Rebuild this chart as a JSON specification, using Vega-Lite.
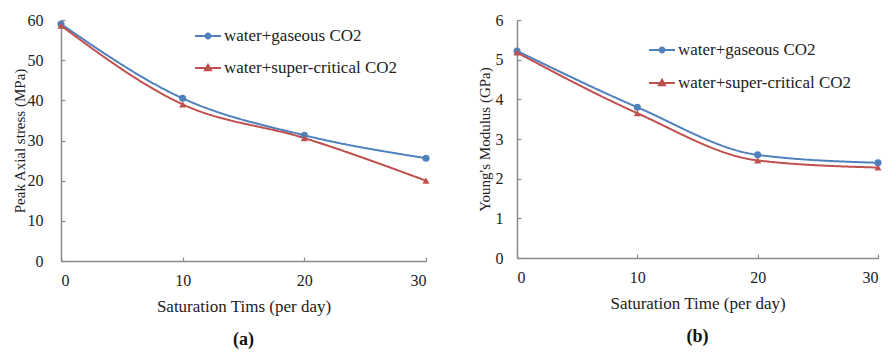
{
  "$schema": "https://vega.github.io/schema/vega-lite/v6.json",
  "padding": {"left": 12, "top": 12, "right": 0, "bottom": 0},
  "background": "white",
  "data": {"values": [
    {"panel": "a", "series": "water+gaseous CO2", "t": 0, "v": 59.0},
    {"panel": "a", "series": "water+gaseous CO2", "t": 10, "v": 40.5},
    {"panel": "a", "series": "water+gaseous CO2", "t": 20, "v": 31.3},
    {"panel": "a", "series": "water+gaseous CO2", "t": 30, "v": 25.6},
    {"panel": "a", "series": "water+super-critical CO2", "t": 0, "v": 58.6},
    {"panel": "a", "series": "water+super-critical CO2", "t": 10, "v": 39.0},
    {"panel": "a", "series": "water+super-critical CO2", "t": 20, "v": 30.6},
    {"panel": "a", "series": "water+super-critical CO2", "t": 30, "v": 20.0},
    {"panel": "b", "series": "water+gaseous CO2", "t": 0, "v": 5.22},
    {"panel": "b", "series": "water+gaseous CO2", "t": 10, "v": 3.8},
    {"panel": "b", "series": "water+gaseous CO2", "t": 20, "v": 2.6},
    {"panel": "b", "series": "water+gaseous CO2", "t": 30, "v": 2.4},
    {"panel": "b", "series": "water+super-critical CO2", "t": 0, "v": 5.18},
    {"panel": "b", "series": "water+super-critical CO2", "t": 10, "v": 3.65},
    {"panel": "b", "series": "water+super-critical CO2", "t": 20, "v": 2.46},
    {"panel": "b", "series": "water+super-critical CO2", "t": 30, "v": 2.28}
  ]},
  "config": {
    "font": "Liberation Serif",
    "view": {"stroke": null},
    "axis": {
      "grid": false,
      "domainColor": "#8a8a8a",
      "domainWidth": 1.5,
      "tickColor": "#8a8a8a",
      "tickWidth": 1.2,
      "tickSize": -4,
      "labelFont": "Liberation Serif",
      "labelFontSize": 16,
      "labelColor": "#222222",
      "titleFont": "Liberation Serif",
      "titleFontSize": 17,
      "titleFontWeight": "normal",
      "titleColor": "#222222"
    },
    "legend": {"labelFont": "Liberation Serif", "labelFontSize": 17, "labelColor": "#222222", "labelLimit": 400, "title": null, "padding": 0, "orient": "none"},
    "title": {"font": "Liberation Serif", "fontSize": 18, "fontWeight": "bold", "color": "#111111"}
  },
  "spacing": 47,
  "resolve": {
    "scale": {"color": "independent", "strokeDash": "independent"},
    "legend": {"color": "independent", "strokeDash": "independent"}
  },
  "hconcat": [
    {
      "width": 365,
      "height": 241,
      "title": {"text": "(a)", "orient": "bottom", "offset": 17},
      "transform": [{"filter": "datum.panel == 'a'"}],
      "encoding": {
        "x": {"field": "t", "type": "quantitative", "scale": {"domain": [0, 30], "nice": false},
              "axis": {"values": [0, 10, 20, 30], "title": "Saturation Tims (per day)", "labelPadding": 15, "titlePadding": 10}},
        "y": {"field": "v", "type": "quantitative", "scale": {"domain": [0, 60], "nice": false},
              "axis": {"values": [0, 10, 20, 30, 40, 50, 60], "title": "Peak Axial stress (MPa)", "titleFontSize": 15, "labelPadding": 22, "titlePadding": 0}},
        "color": {"field": "series", "type": "nominal",
                  "scale": {"domain": ["water+gaseous CO2", "water+super-critical CO2"], "range": ["#4F81BD", "#C0504D"]},
                  "legend": {
                    "values": ["water+gaseous CO2"],
                    "orient": "none", "legendX": 137.5, "legendY": 6.5, "title": null, "padding": 0,
                    "symbolType": "M-1.53,0H1.53M0.28,0A0.28,0.28,0,1,1,-0.28,0A0.28,0.28,0,1,1,0.28,0Z",
                    "symbolSize": 289, "symbolStrokeWidth": 2, "symbolOpacity": 1, "labelOffset": 6.5
                  }}
      },
      "layer": [
        {"mark": {"type": "line", "interpolate": "monotone", "strokeWidth": 2},
         "encoding": {"strokeDash": {"field": "series", "type": "nominal",
            "scale": {"domain": ["water+super-critical CO2", "water+gaseous CO2"], "range": [[1, 0], [1, 0]]},
            "legend": {
              "values": ["water+super-critical CO2"],
              "orient": "none", "legendX": 137.5, "legendY": 38.5, "title": null, "padding": 0,
              "symbolType": "M-1.53,0H1.53M0,-0.38L0.36,0.27L-0.36,0.27Z",
              "symbolSize": 289, "symbolStrokeWidth": 2, "symbolStrokeColor": "#C0504D", "symbolFillColor": "#C0504D", "symbolOpacity": 1,
              "labelOffset": 6.5
            }}}},
        {"transform": [{"filter": "datum.series == 'water+gaseous CO2'"}],
         "mark": {"type": "point", "shape": "circle", "filled": true, "size": 50, "opacity": 1}},
        {"transform": [{"filter": "datum.series == 'water+super-critical CO2'"}],
         "mark": {"type": "point", "shape": "triangle-up", "filled": true, "size": 50, "opacity": 1}}
      ]
    },
    {
      "width": 361,
      "height": 238,
      "title": {"text": "(b)", "orient": "bottom", "offset": 17},
      "transform": [{"filter": "datum.panel == 'b'"}],
      "encoding": {
        "x": {"field": "t", "type": "quantitative", "scale": {"domain": [0, 30], "nice": false},
              "axis": {"values": [0, 10, 20, 30], "title": "Saturation Time (per day)", "labelPadding": 15, "titlePadding": 10}},
        "y": {"field": "v", "type": "quantitative", "scale": {"domain": [0, 6], "nice": false},
              "axis": {"values": [0, 1, 2, 3, 4, 5, 6], "title": "Young's Modulus (GPa)", "titleFontSize": 15, "labelPadding": 18, "titlePadding": 3}},
        "color": {"field": "series", "type": "nominal",
                  "scale": {"domain": ["water+gaseous CO2", "water+super-critical CO2"], "range": ["#4F81BD", "#C0504D"]},
                  "legend": {
                    "values": ["water+gaseous CO2"],
                    "orient": "none", "legendX": 135.5, "legendY": 20.5, "title": null, "padding": 0,
                    "symbolType": "M-1.53,0H1.53M0.28,0A0.28,0.28,0,1,1,-0.28,0A0.28,0.28,0,1,1,0.28,0Z",
                    "symbolSize": 289, "symbolStrokeWidth": 2, "symbolOpacity": 1, "labelOffset": 6.5
                  }}
      },
      "layer": [
        {"mark": {"type": "line", "interpolate": "monotone", "strokeWidth": 2},
         "encoding": {"strokeDash": {"field": "series", "type": "nominal",
            "scale": {"domain": ["water+super-critical CO2", "water+gaseous CO2"], "range": [[1, 0], [1, 0]]},
            "legend": {
              "values": ["water+super-critical CO2"],
              "orient": "none", "legendX": 135.5, "legendY": 53.5, "title": null, "padding": 0,
              "symbolType": "M-1.53,0H1.53M0,-0.38L0.36,0.27L-0.36,0.27Z",
              "symbolSize": 289, "symbolStrokeWidth": 2, "symbolStrokeColor": "#C0504D", "symbolFillColor": "#C0504D", "symbolOpacity": 1,
              "labelOffset": 6.5
            }}}},
        {"transform": [{"filter": "datum.series == 'water+gaseous CO2'"}],
         "mark": {"type": "point", "shape": "circle", "filled": true, "size": 50, "opacity": 1}},
        {"transform": [{"filter": "datum.series == 'water+super-critical CO2'"}],
         "mark": {"type": "point", "shape": "triangle-up", "filled": true, "size": 50, "opacity": 1}}
      ]
    }
  ]
}
